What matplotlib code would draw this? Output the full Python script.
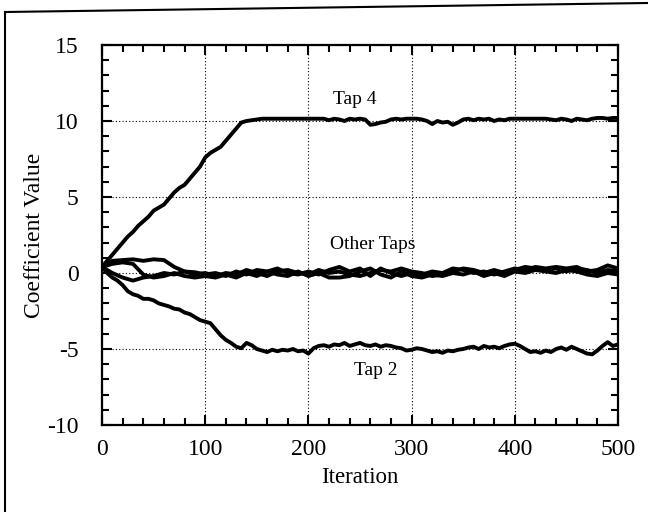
import numpy as np
import matplotlib
matplotlib.use("Agg")
import matplotlib.pyplot as plt
from matplotlib.lines import Line2D
from matplotlib.ticker import MultipleLocator

plt.rcParams['font.family'] = ['Liberation Serif', 'DejaVu Serif']
plt.rcParams['axes.unicode_minus'] = False

# iterations
it5 = np.arange(0, 501, 5)
it10 = np.arange(0, 501, 10)

tap4 = [0.4, 0.8, 1.2, 1.6, 2.0, 2.4, 2.7, 3.1, 3.4, 3.7,
        4.1, 4.3, 4.5, 4.9, 5.3, 5.6, 5.8, 6.2, 6.6, 7.0,
        7.6, 7.9, 8.1, 8.3, 8.7, 9.1, 9.5, 9.9, 10.0, 10.05,
        10.1, 10.15, 10.15, 10.15, 10.15, 10.15, 10.15, 10.15, 10.15, 10.15,
        10.15, 10.15, 10.15, 10.15, 10.05, 10.15, 10.1, 10.0, 10.15, 10.1,
        10.15, 10.1, 9.75, 9.8, 9.9, 9.95, 10.1, 10.15, 10.1, 10.15,
        10.15, 10.15, 10.1, 10.0, 9.8, 10.0, 9.9, 9.95, 9.75, 9.9,
        10.1, 10.15, 10.05, 10.15, 10.1, 10.15, 10.0, 10.1, 10.05, 10.15,
        10.15, 10.15, 10.15, 10.15, 10.15, 10.15, 10.15, 10.1, 10.05, 10.15,
        10.1, 10.0, 10.15, 10.1, 10.05, 10.15, 10.2, 10.2, 10.15, 10.2,
        10.2]

tap2 = [0.4, 0.0, -0.3, -0.5, -0.8, -1.2, -1.4, -1.5, -1.7, -1.7,
        -1.8, -2.0, -2.1, -2.2, -2.35, -2.4, -2.6, -2.7, -2.9, -3.1,
        -3.2, -3.3, -3.7, -4.1, -4.4, -4.6, -4.85, -4.95, -4.6, -4.75,
        -5.0, -5.1, -5.2, -5.05, -5.15, -5.05, -5.1, -5.0, -5.15, -5.1,
        -5.3, -4.95, -4.8, -4.75, -4.85, -4.7, -4.75, -4.6, -4.8, -4.7,
        -4.6, -4.75, -4.8, -4.7, -4.85, -4.75, -4.8, -4.9, -4.95, -5.1,
        -5.05, -4.95, -5.0, -5.1, -5.2, -5.15, -5.25, -5.1, -5.15, -5.05,
        -5.0, -4.9, -4.85, -5.0, -4.8, -4.9, -4.85, -4.95, -4.8, -4.7,
        -4.65, -4.8, -5.0, -5.2, -5.15, -5.25, -5.1, -5.2, -5.0, -4.9,
        -5.05, -4.85, -5.0, -5.15, -5.3, -5.35, -5.1, -4.8, -4.55, -4.8,
        -4.7]

other_a = [0.4, 0.8, 0.85, 0.9, 0.8, 0.9, 0.85, 0.4, 0.1, 0.05,
           -0.1, 0.0, -0.2, 0.1, -0.1, 0.2, 0.1, 0.3, 0.0, -0.1,
           0.1, -0.1, 0.2, 0.4, 0.1, 0.3, -0.2, 0.3, 0.0, -0.2,
           0.0, -0.1, 0.1, 0.0, 0.3, 0.2, 0.0, 0.1, -0.1, 0.1,
           0.3, 0.2, 0.4, 0.3, 0.4, 0.3, 0.4, 0.1, 0.2, 0.5,
           0.3]
other_b = [0.4, 0.6, 0.7, 0.6, -0.1, -0.3, -0.2, 0.0, -0.2, -0.3,
           -0.2, -0.3, -0.1, -0.3, 0.0, -0.2, 0.1, -0.1, -0.2, 0.1,
           -0.2, 0.0, -0.3, -0.3, -0.2, 0.1, 0.3, -0.1, -0.3, 0.1,
           -0.2, -0.3, -0.1, -0.2, 0.0, -0.1, 0.1, -0.2, 0.0, -0.2,
           0.1, 0.0, 0.2, 0.1, 0.0, 0.2, 0.1, -0.1, -0.2, 0.0,
           -0.1]
other_c = [0.4, 0.0, -0.3, -0.5, -0.3, -0.2, 0.0, -0.1, 0.1, -0.1,
           0.0, -0.2, 0.0, -0.1, 0.2, 0.0, -0.2, 0.1, 0.2, 0.0,
           -0.1, 0.2, 0.0, 0.1, -0.1, -0.2, 0.0, 0.2, 0.1, 0.3,
           0.1, 0.0, -0.2, -0.1, 0.1, 0.3, 0.2, 0.0, 0.2, 0.0,
           0.2, 0.4, 0.3, 0.2, 0.3, 0.1, 0.3, 0.2, 0.0, 0.2,
           0.1]

fig = plt.figure(figsize=(6.48, 5.12), dpi=100)
ax = fig.add_axes([102 / 648, 87 / 512, 516 / 648, 380 / 512])

lw = 2.8
ax.plot(it5, tap4, color='black', lw=lw)
ax.plot(it5, tap2, color='black', lw=lw)
ax.plot(it10, other_a, color='black', lw=lw)
ax.plot(it10, other_b, color='black', lw=lw)
ax.plot(it10, other_c, color='black', lw=lw)

ax.set_xlim(0, 500)
ax.set_ylim(-10, 15)
ax.xaxis.set_major_locator(MultipleLocator(100))
ax.xaxis.set_minor_locator(MultipleLocator(20))
ax.yaxis.set_major_locator(MultipleLocator(5))
ax.yaxis.set_minor_locator(MultipleLocator(1))
ax.grid(True, which='major', color='black', linestyle=(0, (1, 2)), linewidth=0.8)

ax.tick_params(which='both', direction='in', top=True, right=True,
               width=1.5, labelsize=17, colors='black')
ax.tick_params(axis='x', which='major', length=7, pad=10)
ax.tick_params(axis='y', which='major', length=7, pad=17)
ax.tick_params(which='minor', length=5)
for s in ax.spines.values():
    s.set_linewidth(1.6)

ax.set_xlabel('Iteration', fontsize=16.5, labelpad=5)
ax.set_ylabel('Coefficient Value', fontsize=17, labelpad=1)

ax.text(245, 11.4, 'Tap 4', fontsize=14, ha='center', va='center')
ax.text(262, 1.9, 'Other Taps', fontsize=14, ha='center', va='center')
ax.text(265, -6.4, 'Tap 2', fontsize=14, ha='center', va='center')

# outer frame
fig.add_artist(Line2D([5 / 648, 1.0], [500 / 512, 509 / 512], color='black', lw=1.5))
fig.add_artist(Line2D([5 / 648, 5 / 648], [0, 500 / 512], color='black', lw=1.5))

fig.savefig('out.png', dpi=100)
